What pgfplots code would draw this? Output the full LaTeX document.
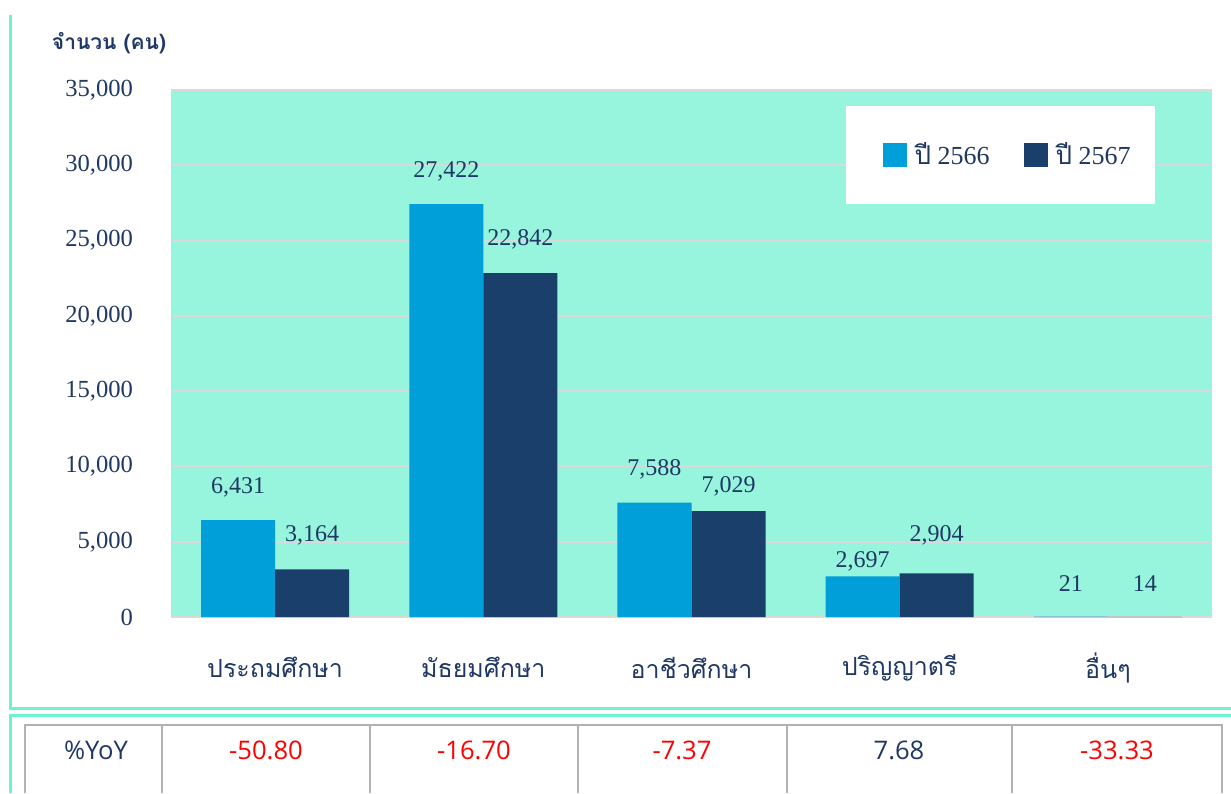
\documentclass[border=0pt]{standalone}
\usepackage{pgfplots}
\usepackage{pgfplotstable}
\pgfplotsset{compat=1.18}
\usepackage{fontspec}
\setmainfont{Liberation Serif}
\newfontfamily\thaifont[Script=Thai]{Loma}
\newfontfamily\tabfont{Open Sans}
\definecolor{mint}{HTML}{96F5DC}
\definecolor{mintline}{HTML}{6CF3CF}
\definecolor{lblue}{HTML}{009FDA}
\definecolor{dblue}{HTML}{1A3F6B}
\definecolor{navy}{HTML}{1F3864}
\definecolor{yoyred}{HTML}{FF0000}
\pgfplotstableread{
x y off
0 6431 16.5
1 27422 16.5
2 7588 16.5
3 2697 7.5
4 21 16.5
}\tabA
\pgfplotstableread{
x y off
0 3164 17
1 22842 17
2 7029 12.5
3 2904 19
4 14 16.5
}\tabB
\begin{document}
\begin{tikzpicture}[x=0.5pt,y=0.5pt]
\useasboundingbox (0,0) rectangle (1231,793);
\draw[mintline, line width=1.5pt] (10,778) -- (10,85) -- (1231,85);
\draw[mintline, line width=1.5pt] (10,0) -- (10,78) -- (1231,78);
\node[navy, font=\thaifont\bfseries\fontsize{10.5}{12}\selectfont] at (109,750) {จำนวน (คน)};
\begin{axis}[at={(85.5pt,88pt)}, anchor=south west, scale only axis,
  width=520.5pt, height=263.5pt,
  xmin=-0.5, xmax=4.5, ymin=0, ymax=35000,
  ybar=0pt, bar width=37pt,
  axis background/.style={fill=mint},
  axis line style={draw=none},
  ymajorgrids, major grid style={draw=black!15, line width=1pt},
  major tick style={draw=none},
  ytick={0,5000,10000,15000,20000,25000,30000,35000},
  scaled y ticks=false,
  yticklabel style={/pgf/number format/1000 sep={,}, /pgf/number format/assume math mode=true, font=\fontsize{12.3}{14}\selectfont, text=navy, xshift=-15.5pt},
  xtick={0,1,2,3,4},
  xticklabels={ประถมศึกษา,มัธยมศึกษา,อาชีวศึกษา,ปริญญาตรี,อื่นๆ},
  xticklabel style={font=\thaifont\fontsize{12.5}{15}\selectfont, text=navy, anchor=center, yshift=-21pt},
  visualization depends on={\thisrow{off} \as \off},
  nodes near coords,
  nodes near coords style={/pgf/number format/1000 sep={,}, /pgf/number format/assume math mode=true, font=\fontsize{12}{14}\selectfont, text=navy, anchor=center, yshift=\off pt},
  legend style={at={(0.926,0.877)}, anchor=east, draw=none, fill=none, legend columns=2, inner xsep=0pt, inner ysep=0pt, font=\fontsize{13}{15}\selectfont, text=navy,
    /tikz/every even column/.append style={column sep=15pt}},
  legend image code/.code={\fill[#1,draw=none] (0pt,-6pt) rectangle (12pt,6pt);},
]
\fill[white] (rel axis cs:0.648,0.784) rectangle (rel axis cs:0.945,0.970);
\addplot[fill=lblue, draw=none] table[x=x,y=y] {\tabA};
\addplot[fill=dblue, draw=none] table[x=x,y=y] {\tabB};
\legend{\hspace{2pt}{\thaifont ปี} 2566, \hspace{2pt}{\thaifont ปี} 2567}
\end{axis}
\draw[black!30, line width=1pt] (25,0) -- (25,68) -- (1222,68) -- (1222,0);
\foreach \x in {162,370,578,787,1012} \draw[black!30, line width=1pt] (\x,0) -- (\x,68);
\begin{scope}[every node/.style={font=\tabfont\fontsize{12.8}{15}\selectfont}]
\node[navy] at (96,43) {\%YoY};
\node[yoyred] at (266,43) {-50.80};
\node[yoyred] at (474,43) {-16.70};
\node[yoyred] at (682,43) {-7.37};
\node[navy] at (899,43) {7.68};
\node[yoyred] at (1117,43) {-33.33};
\end{scope}
\end{tikzpicture}
\end{document}
